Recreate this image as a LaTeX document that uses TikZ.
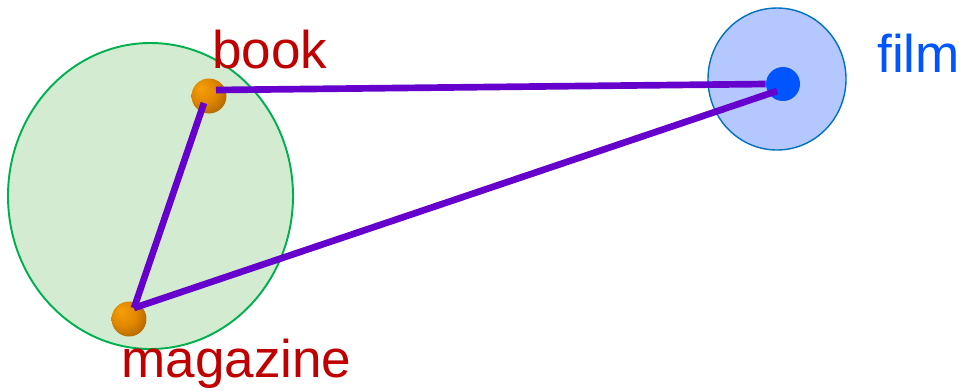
\documentclass[tikz,border=0pt]{standalone}
\usepackage{fontspec}
\setmainfont{Liberation Sans}
\usepackage{tikz}
\usetikzlibrary{positioning}
\definecolor{linkviolet}{RGB}{102,0,204}
\definecolor{wordred}{RGB}{192,0,0}
\definecolor{filmblue}{RGB}{0,85,255}
\definecolor{groupfill}{RGB}{211,236,209}
\definecolor{groupline}{RGB}{0,176,80}
\definecolor{halofill}{RGB}{180,199,255}
\definecolor{haloline}{RGB}{0,112,192}
\definecolor{ballhi}{RGB}{245,160,10}
\definecolor{ballmid}{RGB}{225,135,0}
\definecolor{balllo}{RGB}{150,85,0}
\pgfdeclareradialshading{orangeball}{\pgfpoint{-12bp}{12bp}}{color(0bp)=(ballhi); color(18bp)=(ballmid); color(40bp)=(balllo); color(50bp)=(balllo)}

\begin{document}
\begin{tikzpicture}[x=0.02cm, y=-0.02cm,
    word/.style={inner sep=0pt, anchor=base west, font=\fontsize{30.2}{36}\selectfont},
    ball/.style={circle, minimum size=0.7cm, inner sep=0pt, shading=orangeball},
    link/.style={draw=linkviolet, line width=3.8pt}]
    \useasboundingbox (0,0) rectangle (959,390);

    \draw[fill=groupfill, draw=groupline, line width=1.1pt] (150.5,196) ellipse [x radius=142.5, y radius=153];
    \draw[fill=halofill, draw=haloline, line width=0.8pt] (777,79) ellipse [x radius=69, y radius=71];

    \node[ball] (book) at (209,96) {};
    \node[ball] (magazine) at (129,319) {};
    \node[circle, fill=filmblue, minimum size=0.68cm, inner sep=0pt] (film) at (783,84) {};

    \draw[link] ([shift={(7,-6)}]book.center) -- (film.west);
    \draw[link] ([shift={(-5,7)}]book.center) -- ([shift={(5,-11)}]magazine.center);
    \draw[link] ([shift={(5,-11)}]magazine.center) -- ([shift={(-6,7)}]film.center);

    \node[word, text=wordred] (booklbl) at (212,68) {book};
    \node[word, text=wordred] (magazinelbl) at (121,377) {magazine};
    \node[word, text=filmblue] (filmlbl) at (877,72) {film};
\end{tikzpicture}
\end{document}
